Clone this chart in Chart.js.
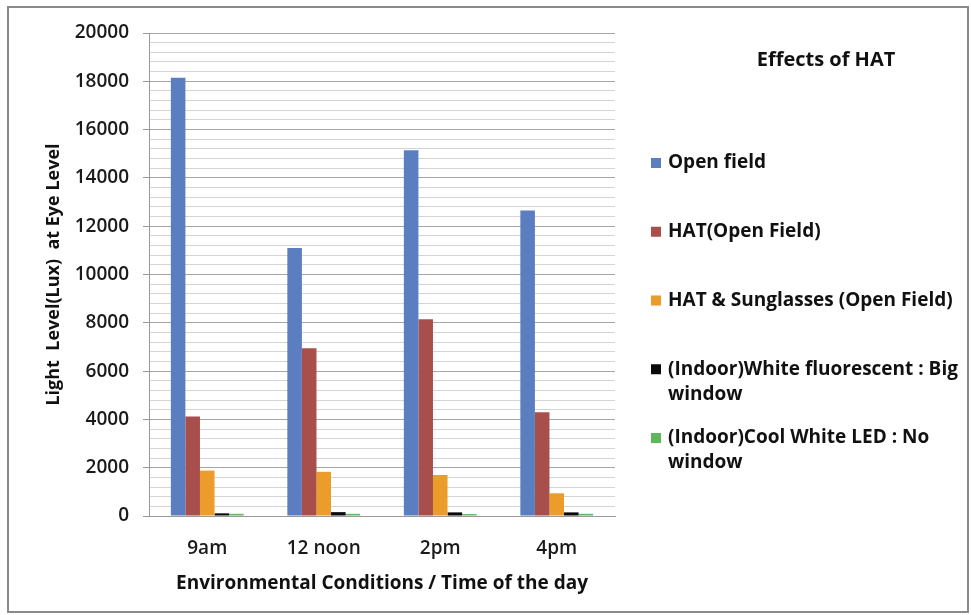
<!DOCTYPE html>
<html>
<head>
<meta charset="utf-8">
<script src="https://cdn.jsdelivr.net/npm/chart.js@4/dist/chart.umd.min.js"></script>
<style>
  html, body { margin: 0; padding: 0; background: #fff; }
  #wrap { width: 971px; height: 615px; position: relative; }
</style>
</head>
<body>
<div id="wrap"><canvas id="HatChart" width="971" height="615"></canvas></div>
<script>
// data
var times = ['9am', '12 noon', '2pm', '4pm'];
var openField = [18150, 11100, 15150, 12650];
var hatOpen = [4120, 6950, 8150, 4300];
var hatSunglasses = [1880, 1830, 1700, 940];
var indoorFluorescent = [110, 160, 150, 150];
var indoorLed = [90, 90, 80, 90];
var seriesNames = ['Open field', 'HAT(Open Field)', 'HAT & Sunglasses (Open Field)',
    ' (Indoor)White fluorescent : Big window', '(Indoor)Cool White LED : No window'];
var seriesColors = ['#5a7ec0', '#a84f4c', '#eb9c2a', '#0a0a0a', '#5db85d'];
var yTicks = [0, 2000, 4000, 6000, 8000, 10000, 12000, 14000, 16000, 18000, 20000];

var FONT = '"Open Sans", "Liberation Sans", sans-serif';

// frame + right-hand legend, drawn on the canvas
var sidePlugin = {
    id: 'side',
    beforeDraw: function (chart) {
        var c = chart.ctx;
        c.save();
        c.fillStyle = '#fff';
        c.fillRect(0, 0, chart.width, chart.height);
        c.strokeStyle = '#8a8a8a';
        c.lineWidth = 2;
        c.strokeRect(8, 7, 960, 605);
        c.restore();
    },
    afterDraw: function (chart) {
        var c = chart.ctx;
        c.save();
        c.fillStyle = '#111';
        c.textBaseline = 'middle';
        c.font = 'bold 20px ' + FONT;
        c.textAlign = 'center';
        c.fillText('Effects of HAT', 826, 60);
        c.textAlign = 'left';
        c.font = 'bold 19px ' + FONT;
        chart.data.datasets.forEach(function (ds, i) {
            var y = 163 + i * 68.75;
            c.fillStyle = ds.backgroundColor;
            c.fillRect(651, y - 5, 10, 10);
            c.fillStyle = '#111';
            // wrap long labels like the original
            var words = ds.label.split(' ');
            var line = '', lines = [];
            words.forEach(function (w) {
                var t = line ? line + ' ' + w : w;
                if (c.measureText(t).width > 302 && line) { lines.push(line); line = w; }
                else line = t;
            });
            lines.push(line);
            lines.forEach(function (l, k) {
                c.fillText(k === 0 ? l : l.trim(), 668, y + k * 25);
            });
        });
        c.restore();
    }
};

var seriesData = [openField, hatOpen, hatSunglasses, indoorFluorescent, indoorLed];
var datasets = seriesData.map(function (d, i) {
    return {
        label: seriesNames[i],
        data: d,
        backgroundColor: seriesColors[i],
        borderWidth: 0,
        categoryPercentage: 0.625,
        barPercentage: 1.0
    };
});

var ctx = document.getElementById('HatChart').getContext('2d');
var myChart = new Chart(ctx, {
    type: 'bar',
    data: { labels: times, datasets: datasets },
    plugins: [sidePlugin],
    options: {
        responsive: false,
        animation: false,
        layout: { padding: { left: 10, right: 356, top: 33, bottom: 20 } },
        plugins: { legend: { display: false }, tooltip: { enabled: false } },
        scales: {
            x: {
                grid: { display: false },
                border: { display: true, color: '#999', width: 1 },
                ticks: { color: '#1a1a1a', font: { family: FONT, size: 19, weight: '600' }, padding: 13 },
                title: {
                    display: true,
                    text: 'Environmental Conditions / Time of the day',
                    color: '#111',
                    font: { family: FONT, size: 19, weight: 'bold' },
                    padding: { top: 4, bottom: 0 }
                },
                afterFit: function (s) { s.height = 79; }
            },
            y: {
                min: 0,
                max: 20000,
                border: { display: true, color: '#999', width: 1 },
                grid: {
                    color: function (c) { return c.tick.value % 2000 === 0 ? '#a6a6a6' : '#d4d4d4'; },
                    tickColor: function (c) { return c.tick.value % 2000 === 0 ? '#999' : 'rgba(0,0,0,0)'; },
                    tickLength: 6
                },
                ticks: {
                    stepSize: 400,
                    autoSkip: false,
                    color: '#1a1a1a',
                    padding: 14,
                    font: { family: FONT, size: 19, weight: '600' },
                    callback: function (v) { return yTicks.indexOf(v) >= 0 ? String(v) : ''; }
                },
                title: {
                    display: true,
                    text: 'Light  Level(Lux)  at Eye Level',
                    color: '#111',
                    font: { family: FONT, size: 18, weight: 'bold' },
                    padding: { top: 33, bottom: 0 }
                },
                afterFit: function (s) { s.width = 139; }
            }
        }
    }
});
</script>
</body>
</html>
